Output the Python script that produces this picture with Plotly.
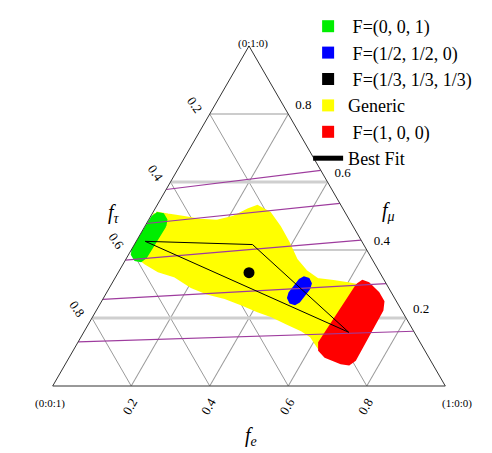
import plotly.graph_objects as go

W, H = 492, 453

# ---- axis ticks ----
tick_vals = [0.2, 0.4, 0.6, 0.8]
tick_text = ["0.8", "0.6", "0.4", "0.2"]
thick_grid_fmu = [0.2, 0.6]

# ---- regions (f_e, f_mu); f_tau = 1 - f_e - f_mu ----
green_fe = [0.0517, 0.0451, 0.0288, 0.0122, 0.0047, 0.0017, 0.0083, 0.0247, 0.0414, 0.0487]
green_fmu = [0.4708, 0.4894, 0.5053, 0.5087, 0.4981, 0.4050, 0.3863, 0.3705, 0.3668, 0.3776]

blue_fe = [0.5105, 0.5068, 0.4943, 0.4801, 0.4726, 0.4660, 0.4698, 0.4823, 0.4966, 0.5039]
blue_fmu = [0.2866, 0.3016, 0.3152, 0.3199, 0.3127, 0.2739, 0.2590, 0.2453, 0.2407, 0.2478]

red_fe = [0.6276, 0.6354, 0.6534, 0.6922, 0.7170, 0.7269, 0.7304, 0.7217, 0.7003, 0.6513, 0.6271, 0.6162]
red_fmu = [0.2981, 0.3075, 0.3012, 0.2733, 0.2484, 0.2236, 0.0776, 0.0652, 0.0683, 0.0870, 0.1056, 0.1273]

yellow_fe = [0.0099, 0.0428, 0.0831, 0.1325, 0.1762, 0.2146, 0.2410, 0.2587, 0.2978, 0.3428,
             0.3884, 0.4331, 0.4750, 0.5172, 0.5624, 0.6028, 0.6332, 0.6224, 0.5855, 0.5513,
             0.5073, 0.4568, 0.4118, 0.3653, 0.3047, 0.2563, 0.2073, 0.1497, 0.0997, 0.0565, 0.0274]
yellow_fmu = [0.5062, 0.5000, 0.4938, 0.4845, 0.4814, 0.4938, 0.5155, 0.5248, 0.5062, 0.4658,
              0.4193, 0.3696, 0.3354, 0.3106, 0.3043, 0.2981, 0.2919, 0.1149, 0.1491, 0.1677,
              0.1863, 0.2081, 0.2236, 0.2422, 0.2640, 0.2764, 0.2950, 0.3261, 0.3416, 0.3634, 0.3820]

black_fe = [1 / 3]
black_fmu = [1 / 3]

bestfit_fe = [0.023, 0.301, 0.675, 0.023]
bestfit_fmu = [0.4255, 0.416, 0.158, 0.4255]

# purple lines: f_mu where they meet left edge (f_e=0) and right edge (f_tau=0)
purple_left_fmu = [0.578, 0.478, 0.370, 0.255, 0.130]
purple_right_fmu = [0.634, 0.537, 0.429, 0.301, 0.161]

legend_names = ["\u00a0F=(0, 0, 1)", "\u00a0F=(1/2, 1/2, 0)", "\u00a0F=(1/3, 1/3, 1/3)",
                "Generic", "\u00a0F=(1, 0, 0)", "Best Fit"]
GREEN, BLUE, BLACK, YELLOW, RED = "#00EE00", "#0000FF", "#000000", "#FFFF00", "#FF0000"
PURPLE = "#9E3C9E"
SERIF = "Liberation Serif"


def tern(fe, fmu):
    ftau = [1 - e - m for e, m in zip(fe, fmu)]
    return dict(a=list(fmu), b=ftau, c=list(fe))


fig = go.Figure()

# thick light grid lines
for v in thick_grid_fmu:
    fig.add_trace(go.Scatterternary(**tern([0, 1 - v], [v, v]), mode="lines",
                                    line=dict(color="#CFCFCF", width=3),
                                    showlegend=False, hoverinfo="skip"))


def region(fe, fmu, color, lw=2):
    fe2 = list(fe) + [fe[0]]
    fmu2 = list(fmu) + [fmu[0]]
    fig.add_trace(go.Scatterternary(**tern(fe2, fmu2), mode="lines", fill="toself",
                                    fillcolor=color, line=dict(color=color, width=lw),
                                    showlegend=False, hoverinfo="skip"))


region(yellow_fe, yellow_fmu, YELLOW, 5)
region(green_fe, green_fmu, GREEN)
region(blue_fe, blue_fmu, BLUE)
region(red_fe, red_fmu, RED, 3)

# purple lines
for lf, rf in zip(purple_left_fmu, purple_right_fmu):
    fig.add_trace(go.Scatterternary(**tern([0, 1 - rf], [lf, rf]), mode="lines",
                                    line=dict(color=PURPLE, width=1.2),
                                    showlegend=False, hoverinfo="skip"))

# best fit
fig.add_trace(go.Scatterternary(**tern(bestfit_fe, bestfit_fmu), mode="lines",
                                line=dict(color="black", width=1), name=legend_names[5],
                                legendrank=6))

# black point
fig.add_trace(go.Scatterternary(**tern(black_fe, black_fmu), mode="markers",
                                marker=dict(color="black", size=11), showlegend=False))

# legend entries
for name, col, rank in zip(legend_names[:5], [GREEN, BLUE, BLACK, YELLOW, RED], [1, 2, 3, 4, 5]):
    fig.add_trace(go.Scatterternary(a=[None], b=[None], c=[None], mode="markers", name=name,
                                    marker=dict(symbol="square", color=col, size=12),
                                    legendrank=rank))

axis_common = dict(tickmode="array", tickvals=tick_vals, ticktext=tick_text,
                   showgrid=True, gridcolor="#9A9A9A", gridwidth=0.8,
                   linecolor="#333333", linewidth=1, ticks="outside",
                   tickcolor="rgba(0,0,0,0)",
                   tickfont=dict(family=SERIF, size=13, color="black"),
                   title=dict(text=""))

dx = 5 / W
fig.update_layout(
    width=W, height=H,
    margin=dict(l=0, r=0, t=0, b=0),
    paper_bgcolor="white",
    ternary=dict(
        sum=1,
        bgcolor="white",
        domain=dict(x=[0.05 - dx, 0.95 - dx], y=[(H - 378) / H, (H - 38) / H]),
        aaxis=dict(axis_common, tickangle=55, ticklen=6),
        baxis=dict(axis_common, tickangle=-60, ticklen=2),
        caxis=dict(axis_common, tickangle=0, ticklen=9),
    ),
    legend=dict(x=0.61, y=1.0, xanchor="left", yanchor="top",
                font=dict(family=SERIF, size=18, color="black"),
                bgcolor="rgba(255,255,255,0)", tracegroupgap=0, itemsizing="constant"),
    showlegend=True,
)


def ann(text, px, py, size):
    fig.add_annotation(text=text, x=px / W, y=1 - py / H, xref="paper", yref="paper",
                       showarrow=False, font=dict(family=SERIF, size=size, color="black"))


ann("(0:1:0)", 245, 27, 11)
ann("(0:0:1)", 25, 404, 11)
ann("(1:0:0)", 466, 404, 11)
ann("<i>f<sub>τ</sub></i>", 98, 205, 20)
ann("<i>f<sub>μ</sub></i>", 389, 203, 20)
ann("<i>f<sub>e</sub></i>", 243, 443, 20)

fig.write_html("out.html")
